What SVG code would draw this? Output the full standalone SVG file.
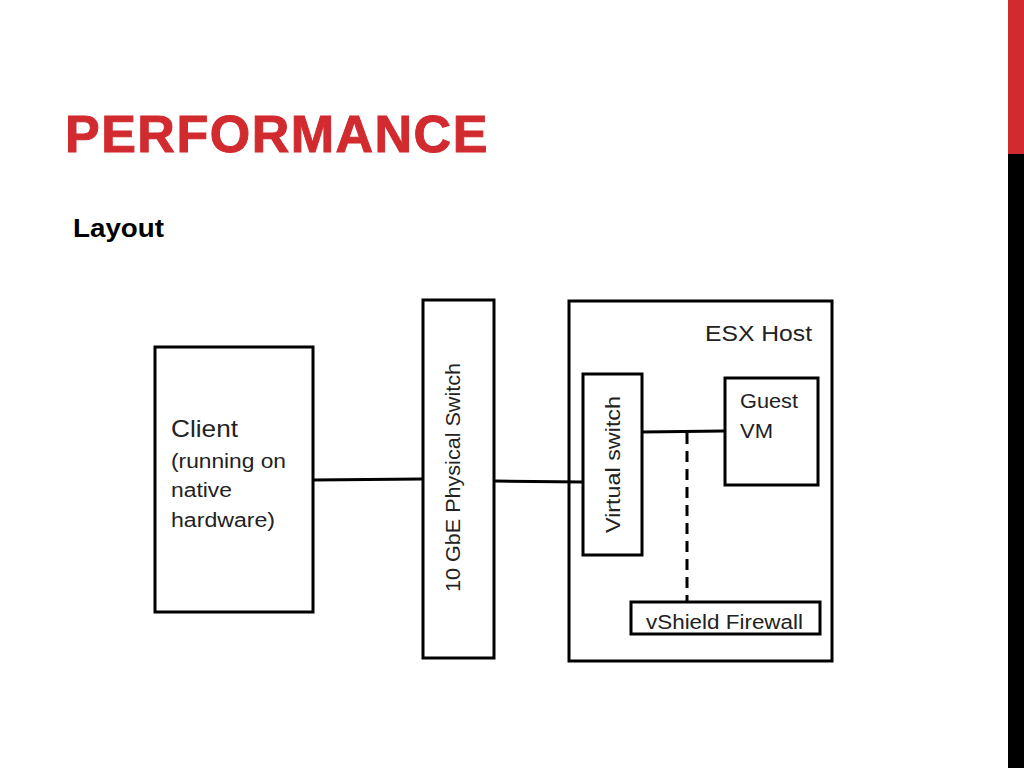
<svg xmlns="http://www.w3.org/2000/svg" width="1024" height="768" viewBox="0 0 1024 768">
<style>
.box{fill:#fff;stroke:#000;stroke-width:3}
.lbl{font-family:"Liberation Sans",Arial,sans-serif;fill:#222}
.conn{stroke:#000;stroke-width:3;fill:none}
</style>
<rect width="1024" height="768" fill="#fff"/>
<rect x="1008" y="0" width="16" height="154" fill="#D12A2F"/>
<rect x="1008" y="154" width="16" height="614" fill="#000"/>
<text x="65" y="152" font-family="Liberation Sans,Arial,sans-serif" font-weight="bold" font-size="52" fill="#D12A2F" stroke="#D12A2F" stroke-width="1" letter-spacing="1.5">PERFORMANCE</text>
<text x="73" y="237" font-family="Liberation Sans,Arial,sans-serif" font-weight="bold" font-size="26" fill="#000" textLength="91" lengthAdjust="spacingAndGlyphs">Layout</text>
<g id="esx-host">
<rect class="box" x="569" y="301" width="263" height="360"/>
<text class="lbl" x="705" y="341" font-size="22" textLength="107" lengthAdjust="spacingAndGlyphs">ESX Host</text>
</g>
<g id="connectors">
<line class="conn" x1="313" y1="480" x2="422" y2="479"/>
<line class="conn" x1="495" y1="481" x2="582" y2="482"/>
<line class="conn" x1="642" y1="432" x2="724" y2="431"/>
<line class="conn" x1="687" y1="433" x2="687" y2="601" stroke-dasharray="11,7"/>
</g>
<g id="client">
<rect class="box" x="155" y="347" width="158" height="265"/>
<text class="lbl" x="171" y="437" font-size="24" textLength="67" lengthAdjust="spacingAndGlyphs">Client</text>
<text class="lbl" x="171" y="468" font-size="20" textLength="115" lengthAdjust="spacingAndGlyphs">(running on</text>
<text class="lbl" x="171" y="497" font-size="20" textLength="61" lengthAdjust="spacingAndGlyphs">native</text>
<text class="lbl" x="171" y="527" font-size="20" textLength="104" lengthAdjust="spacingAndGlyphs">hardware)</text>
</g>
<g id="physical-switch">
<rect class="box" x="423" y="300" width="71" height="358"/>
<text class="lbl" transform="translate(460,592) rotate(-90)" x="0" y="0" font-size="20" textLength="229" lengthAdjust="spacingAndGlyphs">10 GbE Physical Switch</text>
</g>
<g id="virtual-switch">
<rect class="box" x="583" y="374" width="59" height="181"/>
<text class="lbl" transform="translate(620,533) rotate(-90)" x="0" y="0" font-size="20" textLength="137" lengthAdjust="spacingAndGlyphs">Virtual switch</text>
</g>
<g id="guest-vm">
<rect class="box" x="725" y="378" width="93" height="107"/>
<text class="lbl" x="740" y="408" font-size="21" textLength="58" lengthAdjust="spacingAndGlyphs">Guest</text>
<text class="lbl" x="740" y="438" font-size="21" textLength="33" lengthAdjust="spacingAndGlyphs">VM</text>
</g>
<g id="vshield-firewall">
<rect class="box" x="631" y="602" width="189" height="32"/>
<text class="lbl" x="646" y="629" font-size="20" textLength="157" lengthAdjust="spacingAndGlyphs">vShield Firewall</text>
</g>
</svg>
